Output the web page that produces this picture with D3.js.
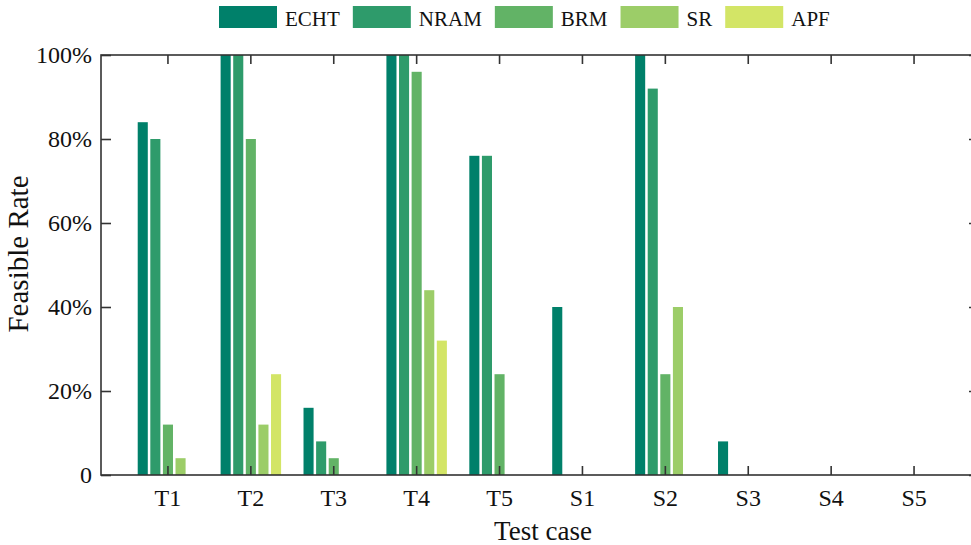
<!DOCTYPE html>
<html>
<head>
<meta charset="utf-8">
<script src="https://cdn.jsdelivr.net/npm/d3@7"></script>
<style>
  body { margin: 0; background: #fff; }
  text { font-family: "Liberation Serif", "Times New Roman", serif; fill: #111; }
</style>
</head>
<body>
<div id="viz"></div>
<script>
var w = 971;
var h = 545;

// data
var cases = ["T1", "T2", "T3", "T4", "T5", "S1", "S2", "S3", "S4", "S5"];
var methods = ["ECHT", "NRAM", "BRM", "SR", "APF"];
var colors = ["#00806a", "#2e9b6b", "#62b366", "#9ccd68", "#d3e566"];
var ECHT = [0.84, 1.00, 0.16, 1.00, 0.76, 0.40, 1.00, 0.08, 0, 0];
var NRAM = [0.80, 1.00, 0.08, 1.00, 0.76, 0, 0.92, 0, 0, 0];
var BRM  = [0.12, 0.80, 0.04, 0.96, 0.24, 0, 0.24, 0, 0, 0];
var SR   = [0.04, 0.12, 0, 0.44, 0, 0, 0.40, 0, 0, 0];
var APF  = [0, 0.24, 0, 0.32, 0, 0, 0, 0, 0, 0];
var yTicks = [0, 0.2, 0.4, 0.6, 0.8, 1.0];

var series = [ECHT, NRAM, BRM, SR, APF];

// plot frame (right edge sits just outside the window, as in the original)
var plotLeft = 101, plotRight = 979, plotTop = 55, plotBottom = 475;

var svg = d3.select("#viz")
    .append("svg")
    .attr("width", w)
    .attr("height", h);

var x = d3.scaleBand()
    .domain(cases)
    .range([126.5, 955.5]);

var xInner = d3.scaleBand()
    .domain(methods)
    .range([-31.5, 31.5])
    .paddingInner(0.2)
    .paddingOuter(0.1);

var y = d3.scaleLinear()
    .domain([0, 1])
    .range([plotBottom, plotTop]);

var color = d3.scaleOrdinal()
    .domain(methods)
    .range(colors);

// bars
var groups = svg.append("g").attr("class", "bars")
    .selectAll("g")
    .data(cases)
    .enter()
    .append("g")
    .attr("transform", function (d) {
        return "translate(" + (x(d) + x.bandwidth() / 2) + ",0)";
    });

groups.selectAll("rect")
    .data(function (d, i) {
        return methods.map(function (m, j) {
            return { method: m, value: series[j][i] };
        }).filter(function (d) { return d.value > 0; });
    })
    .enter()
    .append("rect")
    .attr("x", function (d) { return xInner(d.method); })
    .attr("width", xInner.bandwidth())
    .attr("y", function (d) { return y(d.value); })
    .attr("height", function (d) { return plotBottom - y(d.value); })
    .attr("fill", function (d) { return color(d.method); });

// axes, ticks pointing inward
var fmt = function (d) { return d === 0 ? "0" : Math.round(d * 100) + "%"; };

svg.append("g")
    .attr("transform", "translate(0," + plotBottom + ")")
    .call(d3.axisBottom(x).tickSize(-9).tickSizeOuter(0).tickPadding(14));

svg.append("g")
    .attr("transform", "translate(0," + plotTop + ")")
    .call(d3.axisTop(x).tickSize(-9).tickSizeOuter(0).tickFormat(""));

svg.append("g")
    .attr("transform", "translate(" + plotLeft + ",0)")
    .call(d3.axisLeft(y).tickValues(yTicks).tickSize(-10).tickSizeOuter(0).tickPadding(9).tickFormat(fmt));

svg.append("g")
    .attr("transform", "translate(" + plotRight + ",0)")
    .call(d3.axisRight(y).tickValues(yTicks).tickSize(-10).tickSizeOuter(0).tickFormat(""));

svg.selectAll(".domain").remove();
svg.selectAll(".tick line").attr("stroke", "#333").attr("stroke-width", 1.6);
svg.selectAll(".tick text")
    .style("font-family", '"Liberation Serif", serif')
    .style("font-size", "24px")
    .attr("fill", "#111");

// frame
svg.append("rect")
    .attr("x", plotLeft)
    .attr("y", plotTop)
    .attr("width", plotRight - plotLeft)
    .attr("height", plotBottom - plotTop)
    .attr("fill", "none")
    .attr("stroke", "#333")
    .attr("stroke-width", 1.6);

// axis titles
svg.append("text")
    .attr("x", 543)
    .attr("y", 540)
    .attr("text-anchor", "middle")
    .style("font-size", "27px")
    .text("Test case");

svg.append("text")
    .attr("transform", "translate(28,254) rotate(-90)")
    .attr("text-anchor", "middle")
    .style("font-size", "29px")
    .text("Feasible Rate");

// legend
var legend = svg.append("g").attr("class", "legend");
var lx = 219;
methods.forEach(function (m) {
    legend.append("rect")
        .attr("x", lx)
        .attr("y", 6)
        .attr("width", 58)
        .attr("height", 22)
        .attr("fill", color(m));
    var t = legend.append("text")
        .attr("x", lx + 66)
        .attr("y", 26)
        .style("font-size", "21px")
        .text(m);
    lx += 66 + t.node().getComputedTextLength() + 13;
});
</script>
</body>
</html>
